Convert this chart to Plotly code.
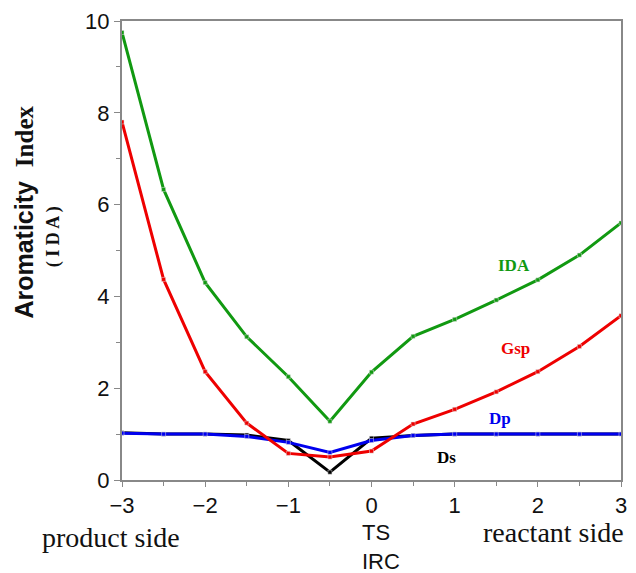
import plotly.graph_objects as go

irc = [-3, -2.5, -2, -1.5, -1, -0.5, 0, 0.5, 1, 1.5, 2, 2.5, 3]
ida = [9.75, 6.33, 4.3, 3.12, 2.25, 1.28, 2.35, 3.13, 3.5, 3.92, 4.36, 4.9, 5.6]
gsp = [7.8, 4.37, 2.36, 1.24, 0.58, 0.5, 0.63, 1.22, 1.54, 1.92, 2.36, 2.91, 3.58]
dp = [1.02, 1.0, 1.0, 0.95, 0.82, 0.6, 0.86, 0.97, 1.0, 1.0, 1.0, 1.0, 1.0]
ds = [1.03, 1.0, 1.0, 0.98, 0.86, 0.17, 0.91, 0.97, 1.0, 1.0, 1.0, 1.0, 1.0]

xticks = [-3, -2, -1, 0, 1, 2, 3]
yticks = [0, 2, 4, 6, 8, 10]

fig = go.Figure()
series = [("Ds", ds, "#000000"), ("Dp", dp, "#0000ee"),
          ("Gsp", gsp, "#ee0000"), ("IDA", ida, "#119911")]
for name, vals, col in series:
    fig.add_trace(go.Scatter(x=irc, y=vals, mode="lines+markers", name=name,
                             line=dict(color=col, width=3),
                             marker=dict(symbol="square", size=4, color=col,
                                         line=dict(color="#dddddd", width=0.5))))

labels = [("IDA", 1.71, 4.67, "#119911"), ("Gsp", 1.73, 2.87, "#ee0000"),
          ("Dp", 1.55, 1.35, "#0000ee"), ("Ds", 0.9, 0.48, "#000000")]
for t, x, y, c in labels:
    fig.add_annotation(x=x, y=y, text="<b>" + t + "</b>", showarrow=False,
                       font=dict(family="Liberation Serif", size=17, color=c))

serif = "Liberation Serif"
sans = "Liberation Sans"
fig.add_annotation(xref="paper", yref="paper", x=-0.196, y=0.583, textangle=-90,
                   xanchor="center", yanchor="middle",
                   text="<b>Aromaticity  <span style='font-family:Liberation Serif'>Index</span></b>",
                   showarrow=False, font=dict(family=sans, size=25, color="#111"))
fig.add_annotation(xref="paper", yref="paper", x=-0.137, y=0.53, textangle=-90,
                   xanchor="center", yanchor="middle",
                   text="<b>( I D A )</b>", showarrow=False,
                   font=dict(family=serif, size=18, color="#111"))
fig.add_annotation(xref="paper", yref="paper", x=-0.164, y=-0.125, xanchor="left",
                   yanchor="middle", text="product side", showarrow=False,
                   font=dict(family=serif, size=28, color="#111"))
fig.add_annotation(xref="paper", yref="paper", x=1.01, y=-0.115, xanchor="right",
                   yanchor="middle", text="reactant side", showarrow=False,
                   font=dict(family=serif, size=28, color="#111"))
fig.add_annotation(xref="paper", yref="paper", x=0.509, y=-0.115,
                   xanchor="center", yanchor="middle",
                   text="TS", showarrow=False,
                   font=dict(family=sans, size=22, color="#111"))
fig.add_annotation(xref="paper", yref="paper", x=0.519, y=-0.178,
                   xanchor="center", yanchor="middle",
                   text="IRC", showarrow=False,
                   font=dict(family=sans, size=22, color="#111"))

fig.update_layout(
    width=636, height=573, margin=dict(l=122, r=9, t=20, b=93),
    paper_bgcolor="white", plot_bgcolor="white", showlegend=False,
    xaxis=dict(range=[-3, 3], tickvals=xticks, ticks="outside", ticklen=5,
               showline=True, linecolor="#888", linewidth=2, mirror=True,
               showgrid=False, zeroline=False, tickcolor="#888",
               tickfont=dict(family=sans, size=22, color="#111"),
               minor=dict(tickvals=[-2.5, -1.5, -0.5, 0.5, 1.5, 2.5], ticks="outside", ticklen=4, tickcolor="#888")),
    yaxis=dict(range=[0, 10], tickvals=yticks, ticks="outside", ticklen=6,
               showline=True, linecolor="#888", linewidth=2, mirror=True,
               showgrid=False, zeroline=False, tickcolor="#888",
               tickfont=dict(family=sans, size=22, color="#111"),
               minor=dict(tickvals=[1, 3, 5, 7, 9], ticks="outside", ticklen=4, tickcolor="#888")),
)
fig.write_html("out.html")
